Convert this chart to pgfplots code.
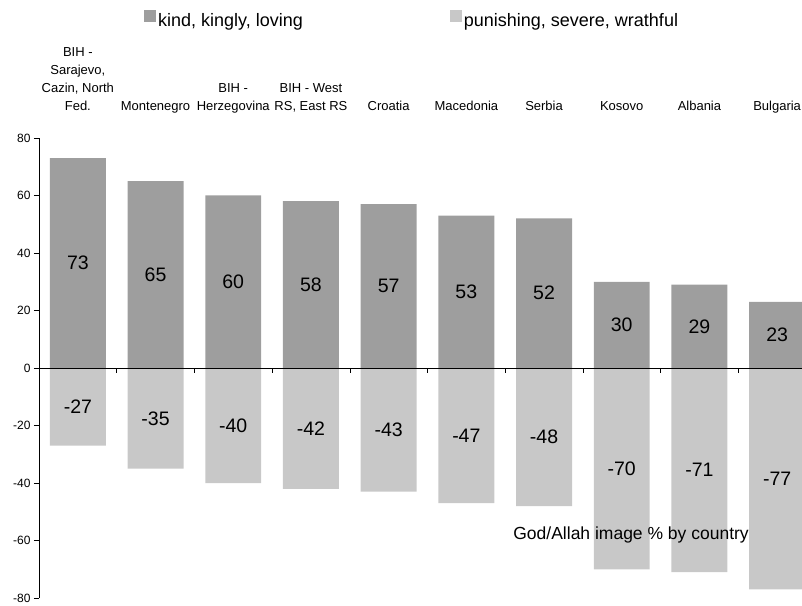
\documentclass[border=0pt]{standalone}
\usepackage{fontspec}
\setmainfont{Liberation Sans}
\usepackage{pgfplots}
\pgfplotsset{compat=1.18}
\usepackage{pgfplotstable}
\definecolor{posc}{RGB}{158,158,158}
\definecolor{negc}{RGB}{200,200,200}

\pgfplotstableread{
x pos neg
0 73 -27
1 65 -35
2 60 -40
3 58 -42
4 57 -43
5 53 -47
6 52 -48
7 30 -70
8 29 -71
9 23 -77
}\data

\begin{document}
\begin{tikzpicture}
\begin{axis}[name=ax, at={(0,0)}, anchor=south west,
  scale only axis, width=763pt, height=460pt,
  xmin=-0.5, xmax=9.32, ymin=-80, ymax=80,
  axis y line*=left, axis x line*=top,
  x axis line style={draw=none}, y axis line style={-, black},
  ytick={-80,-60,...,80}, tick align=outside, major tick length=5pt,
  ytick style={black},
  y tick label style={font=\fontsize{12}{14}\selectfont},
  /pgf/number format/assume math mode=true,
  xtick={0,...,9}, xtick style={draw=none},
  xticklabels={{BIH -\\Sarajevo,\\Cazin, North\\Fed.},Montenegro,{BIH -\\Herzegovina},{BIH - West\\RS, East RS},Croatia,Macedonia,Serbia,Kosovo,Albania,Bulgaria},
  x tick label style={font=\fontsize{13}{18}\selectfont, align=center, anchor=south, text depth=0pt, inner sep=0pt, yshift=22pt},
  legend columns=2,
  legend style={at={(axis description cs:0.1376,1.258)}, anchor=west, draw=none, fill=none, inner sep=0pt,
    font=\fontsize{18}{20}\selectfont, cells={anchor=west},
    nodes={inner xsep=2pt, inner ysep=0pt},
    /tikz/every even column/.append style={column sep=145pt}},
  legend image code/.code={\fill[#1] (0pt,-1pt) rectangle (12pt,11pt);},
]
\addplot[ybar, bar width=0.72, bar shift=0pt, fill=posc, draw=none] table[x=x, y=pos] {\data};
\addlegendentry{kind, kingly, loving}
\addplot[ybar, bar width=0.72, bar shift=0pt, fill=negc, draw=none] table[x=x, y=neg] {\data};
\addlegendentry{punishing, severe, wrathful}
\addplot[forget plot, draw=none, mark=none, nodes near coords, point meta=explicit,
  nodes near coords style={anchor=center, font=\fontsize{19.5}{22}\selectfont, text=black}]
  table[x=x, y expr=\thisrow{pos}/2, meta=pos] {\data};
\addplot[forget plot, draw=none, mark=none, nodes near coords, point meta=explicit,
  nodes near coords style={anchor=center, font=\fontsize{19.5}{22}\selectfont, text=black}]
  table[x=x, y expr=\thisrow{neg}/2, meta=neg] {\data};
\draw[black] (axis cs:-0.5,0) -- (axis cs:9.32,0);
\pgfplotsinvokeforeach{0.5,1.5,2.5,3.5,4.5,5.5,6.5,7.5,8.5}{
  \draw[black] (axis cs:#1,0) -- ++(0pt,-5pt);
}
\node[font=\fontsize{17.5}{20}\selectfont, text=black] at (axis cs:7.12,-58) {God/Allah image \% by country};
\end{axis}
\pgfresetboundingbox
\useasboundingbox ([shift={(-39pt,-7pt)}]ax.south west) rectangle ([shift={(0pt,138pt)}]ax.north east);
\end{tikzpicture}
\end{document}
